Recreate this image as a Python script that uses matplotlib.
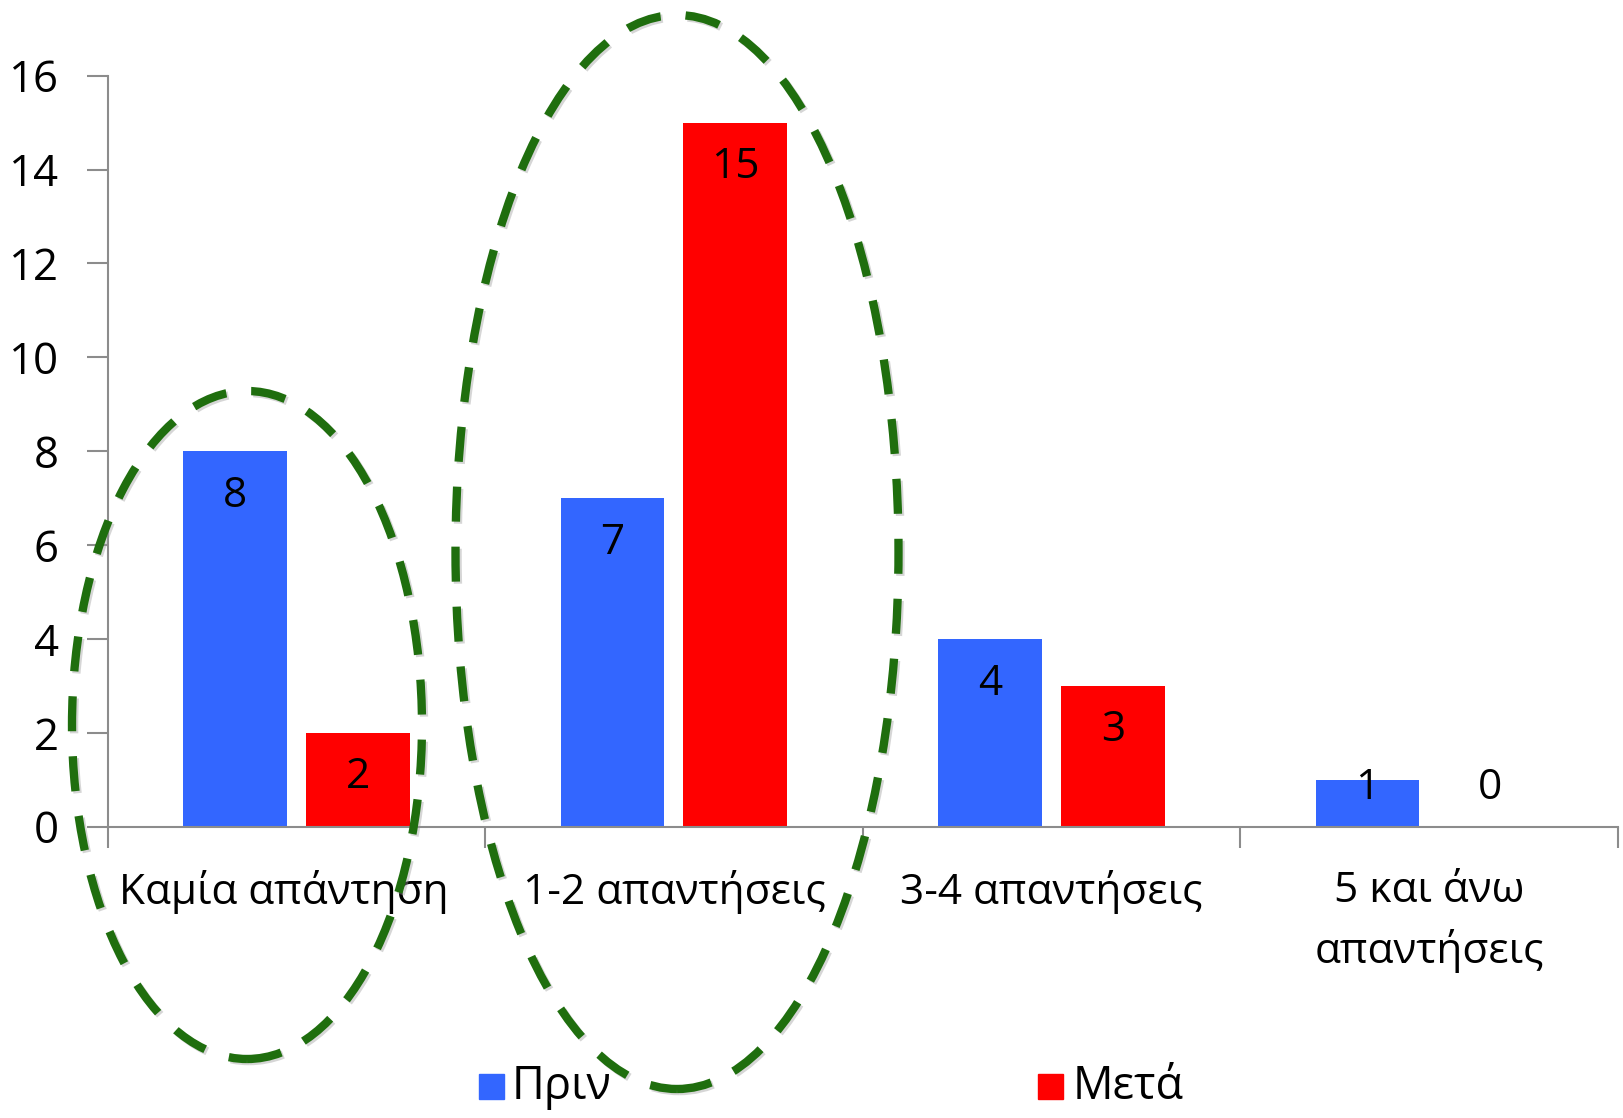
import matplotlib
matplotlib.use("Agg")
import matplotlib.pyplot as plt
from matplotlib.patches import Ellipse, Rectangle
import matplotlib.patheffects as pe
import matplotlib.transforms as mtransforms
import numpy as np

categories = ["Καμία απάντηση", "1-2 απαντήσεις", "3-4 απαντήσεις", "5 και άνω\nαπαντήσεις"]
series_names = ["Πριν", "Μετά"]
before = [8, 7, 4, 1]
after = [2, 15, 3, 0]
yticks = [0, 2, 4, 6, 8, 10, 12, 14, 16]

BLUE = "#3366FF"
RED = "#FF0000"
GREEN = "#1F6E0E"
AXC = "#8C8C8C"

plt.rcParams['font.family'] = ['Open Sans', 'DejaVu Sans']
FS = 30.5

W, H = 1623, 1118
fig = plt.figure(figsize=(W / 100, H / 100), dpi=100)
ax = fig.add_axes([107.6 / W, 1 - 826.7 / H, (1617.7 - 107.6) / W, (826.7 - 75.7) / H])

n = len(categories)
x = np.arange(n) + 0.5
bw = 0.2747
off = 0.1627
ax.bar(x - off, before, width=bw, color=BLUE, zorder=2)
ax.bar(x + off, after, width=bw, color=RED, zorder=2)

for xi, v in zip(x - off, before):
    ax.text(xi, max(v - 0.95, 0.82), str(v), ha='center', va='center', fontsize=FS, color='black', zorder=3)
for xi, v in zip(x + off, after):
    ax.text(xi, max(v - 0.95, 0.82), str(v), ha='center', va='center', fontsize=FS, color='black', zorder=3)

ax.set_xlim(0, n)
ax.set_ylim(0, 16)
ax.set_yticks(yticks)
ax.set_yticklabels([str(t) for t in yticks], fontsize=FS + 1)
ax.set_xticks(np.arange(n + 1))
ax.set_xticklabels([])
ax.set_xticks(x, minor=True)
labels = ax.set_xticklabels(categories, minor=True, fontsize=FS, linespacing=1.52)
ax.tick_params(axis='x', which='minor', length=0, pad=31)
ax.tick_params(axis='x', which='major', length=15, width=1.5, color=AXC)
ax.tick_params(axis='y', length=15, width=1.5, color=AXC, pad=20)
for s in ['top', 'right']:
    ax.spines[s].set_visible(False)
for s in ['left', 'bottom']:
    ax.spines[s].set_color(AXC)
    ax.spines[s].set_linewidth(1.5)

# first category label sits slightly left of centre in the reference
shift = mtransforms.ScaledTranslation(-0.13, 0, fig.dpi_scale_trans)
lbl0 = ax.xaxis.get_minor_ticks()[0].label1
lbl0.set_transform(lbl0.get_transform() + shift)

# legend
for name, col, sx, tx in [(series_names[0], BLUE, 479, 512), (series_names[1], RED, 1038, 1073)]:
    fig.patches.append(Rectangle((sx / W, 1 - 1099 / H), 25 / W, 25 / H, transform=fig.transFigure, color=col, figure=fig))
    fig.text(tx / W, 1 - 1087 / H, name, fontsize=FS + 2, va='center', ha='left')

# dashed ellipses (annotation)
shadow = [pe.SimpleLineShadow(offset=(1.5, -1.5), shadow_color='0.6', alpha=0.4), pe.Normal()]
for cx, cy, ew, eh in [(247, 725, 350, 668), (677, 552, 443, 1074)]:
    e = Ellipse((cx / W, 1 - cy / H), ew / W, eh / H, transform=fig.transFigure, fill=False,
                edgecolor=GREEN, linewidth=6, linestyle=(0, (4.2, 3.0)), figure=fig, zorder=5)
    e.set_path_effects(shadow)
    fig.patches.append(e)

fig.savefig("out.png", dpi=100)
